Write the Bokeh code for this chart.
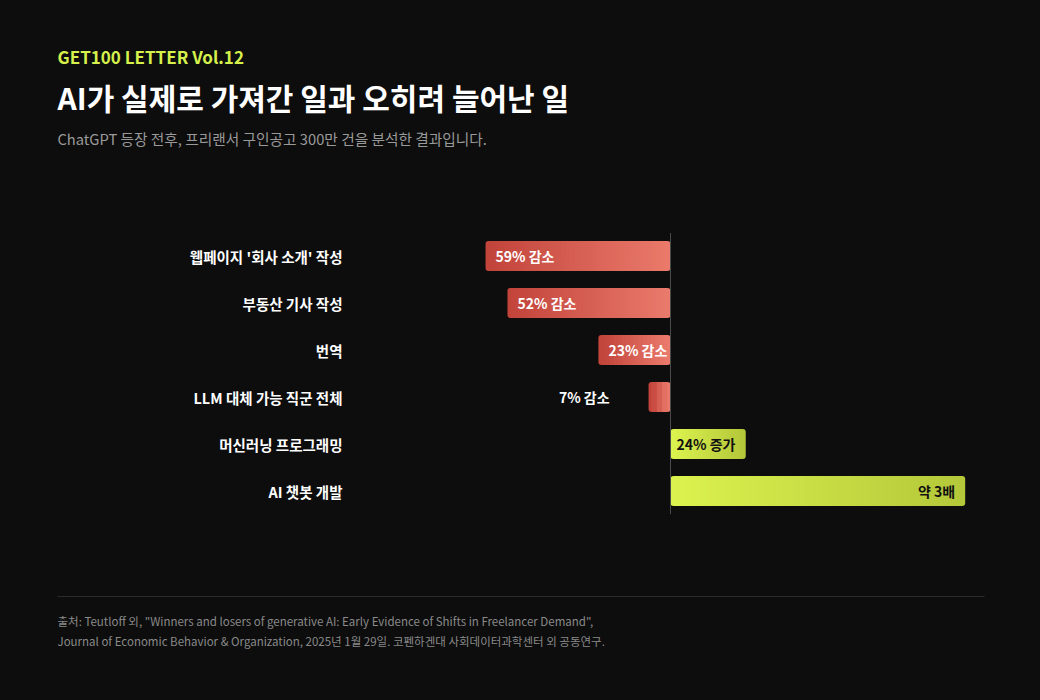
from bokeh.plotting import figure
from bokeh.models import Range1d, ColumnDataSource
from bokeh.core.properties import value
from bokeh.embed import file_html
from bokeh.resources import INLINE

# ---------------- data ----------------
categories = ["웹페이지 '회사 소개' 작성", "부동산 기사 작성", "번역",
              "LLM 대체 가능 직군 전체", "머신러닝 프로그래밍", "AI 챗봇 개발"]
values = [-59, -52, -23, -7, 24, 94]          # bar length (약 3배 drawn at 94)
bar_labels = ["59% 감소", "52% 감소", "23% 감소", "7% 감소", "24% 증가", "약 3배"]
label_modes = ["in_outer", "in_outer", "in_outer", "out_outer", "in_inner", "in_end"]

header = "GET100 LETTER Vol.12"
title = "AI가 실제로 가져간 일과 오히려 늘어난 일"
subtitle = "ChatGPT 등장 전후, 프리랜서 구인공고 300만 건을 분석한 결과입니다."
footer1 = "출처: Teutloff 외, \"Winners and losers of generative AI: Early Evidence of Shifts in Freelancer Demand\","
footer2 = "Journal of Economic Behavior & Organization, 2025년 1월 29일. 코펜하겐대 사회데이터과학센터 외 공동연구."

# ---------------- layout ----------------
W, H = 1040, 700
ZERO_PX = 670.0
S = 3.135                 # pixels per percent unit
ROW0, ROW = 255.5, 47.0   # first bar centre, row pitch (px)
BAR_H = 30.0
BG = "#0d0d0d"
FONT = value("Noto Sans CJK KR")

def px(xp):
    return (xp - ZERO_PX) / S

p = figure(width=W, height=H, output_backend="svg", toolbar_location=None,
           x_range=Range1d(px(0), px(W)), y_range=Range1d(H, 0),
           min_border=0, x_axis_location=None, y_axis_location=None,
           background_fill_color=BG, border_fill_color=BG, outline_line_color=None)
p.grid.visible = False

def lerp(c1, c2, t):
    a = [int(c1[i:i+2], 16) for i in (1, 3, 5)]
    b = [int(c2[i:i+2], 16) for i in (1, 3, 5)]
    return "#%02x%02x%02x" % tuple(round(a[k] + (b[k] - a[k]) * t) for k in range(3))

RED_L, RED_R = "#c2443b", "#ea7a6b"
GRN_L, GRN_R = "#dcf24e", "#b4c83a"

cap = 6 / S
seg = dict(left=[], right=[], top=[], bottom=[], color=[])
caps = dict(left=[], right=[], top=[], bottom=[], color=[])
for i, v in enumerate(values):
    yc = ROW0 + i * ROW
    top, bot = yc - BAR_H / 2, yc + BAR_H / 2
    x0, x1 = min(0, v), max(0, v)
    cl, cr = (RED_L, RED_R) if v < 0 else (GRN_L, GRN_R)
    for (a, b, c) in ((x0, x0 + cap, cl), (x1 - cap, x1, cr)):
        caps["left"].append(a); caps["right"].append(b)
        caps["top"].append(top); caps["bottom"].append(bot); caps["color"].append(c)
    m0, m1 = x0 + cap / 2, x1 - cap / 2
    n = max(3, int((m1 - m0) * S / 4))
    step = (m1 - m0) / n
    for k in range(n):
        a = m0 + step * k
        b = m0 + step * (k + 1)
        seg["left"].append(a); seg["right"].append(b + step * 0.5 if k < n - 1 else b)
        seg["top"].append(top); seg["bottom"].append(bot)
        seg["color"].append(lerp(cl, cr, (k + 0.5) / n))

p.quad(left="left", right="right", top="top", bottom="bottom", color="color",
       source=ColumnDataSource(caps), border_radius=3, line_color=None)
p.quad(left="left", right="right", top="top", bottom="bottom", color="color",
       source=ColumnDataSource(seg), line_color=None)

# zero line
p.segment(x0=[0], x1=[0], y0=[ROW0 - BAR_H / 2 - 8], y1=[ROW0 + (len(values) - 1) * ROW + BAR_H / 2 + 8],
          line_color="#4a4a4a", line_width=1)

# category labels
p.text(x=[px(342)] * len(categories), y=[ROW0 + i * ROW for i in range(len(categories))],
       text=categories, text_align="right", text_baseline="middle",
       text_color="#ffffff", text_font=FONT, text_font_style="bold", text_font_size="14.5px")

# bar labels
lx, ly, la, lc = [], [], [], []
for i, (v, m) in enumerate(zip(values, label_modes)):
    yc = ROW0 + i * ROW
    if m == "in_outer":
        lx.append(v + 10 / S); la.append("left"); lc.append("#ffffff")
    elif m == "out_outer":
        lx.append(v - 39 / S); la.append("right"); lc.append("#ffffff")
    elif m == "in_inner":
        lx.append(6 / S); la.append("left"); lc.append("#111111")
    else:
        lx.append(v - 10 / S); la.append("right"); lc.append("#111111")
    ly.append(yc)
p.text(x=lx, y=ly, text=bar_labels, text_align=la, text_baseline="middle",
       text_color=lc, text_font=FONT, text_font_style="bold", text_font_size="14px")

# headings
X0 = px(57)
p.text(x=[X0], y=[55.5], text=[header], text_baseline="middle", text_color="#d6f04c",
       text_font=FONT, text_font_style="bold", text_font_size="17px")
p.text(x=[X0], y=[96], text=[title], text_baseline="middle", text_color="#ffffff",
       text_font=FONT, text_font_style="bold", text_font_size="30px")
p.text(x=[X0], y=[138], text=[subtitle], text_baseline="middle", text_color="#9a9a9a",
       text_font=FONT, text_font_size="14.7px")

# footer
p.segment(x0=[px(57)], x1=[px(984)], y0=[596], y1=[596], line_color="#2a2a2a", line_width=1)
p.text(x=[X0, X0], y=[620, 640], text=[footer1, footer2], text_baseline="middle",
       text_color="#8a8a8a", text_font=FONT, text_font_size="11.5px")

html = file_html(p, INLINE)
html = html.replace("<head>", "<head><style>body{background:%s;}</style>" % BG, 1)
open("out.html", "w").write(html)
